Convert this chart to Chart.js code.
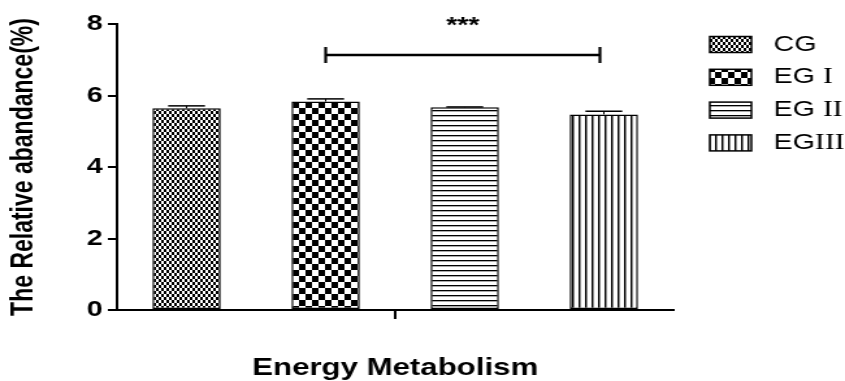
<!DOCTYPE html>
<html><head><meta charset="utf-8">
<script src="https://cdn.jsdelivr.net/npm/chart.js@4.4.1/dist/chart.umd.min.js"></script>
<style>
html,body{margin:0;padding:0;background:#fff;overflow:hidden}
#c{display:block;width:845px!important;height:381px!important}
</style></head><body>
<canvas id="c" width="650" height="381"></canvas>
<script>
const categories = ['Energy Metabolism'];
const seriesNames = ['CG', 'EG I', 'EG II', 'EGIII'];
const seriesValues = [5.64, 5.83, 5.67, 5.47];
const seriesErrors = [0.07, 0.075, 0.01, 0.09];
const yTicks = [0, 2, 4, 6, 8];
const sigFrom = 1, sigTo = 3, sigLevel = 7.13, sigLabel = '***';
const yTitle = 'The Relative abandance(%)';

const SANS = "'Liberation Sans', Arial, Helvetica, sans-serif";

function makePattern(kind) {
  const c = document.createElement('canvas');
  const g = c.getContext('2d');
  let w, h;
  if (kind === 'fine') { w = 4; h = 6; }
  else if (kind === 'big') { w = 10; h = 12; }
  else if (kind === 'h') { w = 4; h = 5; }
  else { w = 5; h = 4; }
  c.width = w; c.height = h;
  g.fillStyle = '#fff'; g.fillRect(0, 0, w, h);
  g.fillStyle = '#000';
  if (kind === 'fine') { g.fillRect(0, 0, 2, 3); g.fillRect(2, 3, 2, 3); }
  else if (kind === 'big') { g.fillRect(0, 0, 5, 6); g.fillRect(5, 6, 5, 6); }
  else if (kind === 'h') { g.fillRect(0, 0, w, 1); g.fillStyle = '#aaa'; g.fillRect(0, 1, w, 1); }
  else { g.fillRect(0, 0, 1, h); g.fillStyle = '#888'; g.fillRect(1, 0, 1, h); }
  return g.createPattern(c, 'repeat');
}
const patterns = [makePattern('fine'), makePattern('big'), makePattern('h'), makePattern('v')];

const overlay = {
  id: 'overlay',
  afterDatasetsDraw(chart) {
    const ctx = chart.ctx, y = chart.scales.y;
    ctx.save();
    ctx.strokeStyle = '#000';
    seriesValues.forEach((v, i) => {
      const bar = chart.getDatasetMeta(i).data[0];
      const half = bar.width * 0.27;
      const top = y.getPixelForValue(v + seriesErrors[i]);
      const base = y.getPixelForValue(v);
      ctx.lineWidth = 1;
      ctx.beginPath(); ctx.moveTo(bar.x, base); ctx.lineTo(bar.x, top); ctx.stroke();
      ctx.lineWidth = 1.5;
      ctx.beginPath(); ctx.moveTo(bar.x - half, top); ctx.lineTo(bar.x + half, top); ctx.stroke();
    });
    const x1 = chart.getDatasetMeta(sigFrom).data[0].x;
    const x2 = chart.getDatasetMeta(sigTo).data[0].x - 3;
    const yl = y.getPixelForValue(sigLevel);
    ctx.lineWidth = 2.5;
    ctx.beginPath(); ctx.moveTo(x1, yl); ctx.lineTo(x2, yl); ctx.stroke();
    ctx.lineWidth = 2.2;
    ctx.beginPath();
    ctx.moveTo(x1, yl - 8); ctx.lineTo(x1, yl + 8);
    ctx.moveTo(x2, yl - 8); ctx.lineTo(x2, yl + 8);
    ctx.stroke();
    ctx.fillStyle = '#000';
    ctx.font = 'bold 22px ' + SANS;
    ctx.textAlign = 'center';
    ctx.textBaseline = 'alphabetic';
    ctx.fillText(sigLabel, (x1 + x2) / 2, yl - 23);
    ctx.restore();
  },
  afterDraw(chart) {
    const ctx = chart.ctx;
    ctx.save();
    const bx = 546, bw = 32, bh = 16, tx = 595;
    seriesNames.forEach((name, i) => {
      const cy = 44.5 + i * 32.8;
      ctx.fillStyle = patterns[i];
      ctx.fillRect(bx, cy - bh / 2, bw, bh);
      ctx.strokeStyle = '#000';
      ctx.lineWidth = 1.5;
      ctx.strokeRect(bx, cy - bh / 2, bw, bh);
      ctx.fillStyle = '#000';
      ctx.textAlign = 'left';
      ctx.textBaseline = 'middle';
      const m = name.match(/^(.*?)(\s?)(I+)$/);
      ctx.font = '22px Arimo, "Liberation Sans", "DejaVu Sans", sans-serif';
      if (m) {
        ctx.fillText(m[1], tx, cy);
        const x = tx + ctx.measureText(m[1] + m[2]).width;
        ctx.font = '23px "Liberation Serif", "DejaVu Serif", serif';
        ctx.fillText(m[3], x, cy);
      } else {
        ctx.fillText(name, tx, cy);
      }
    });
    ctx.restore();
  }
};

new Chart(document.getElementById('c'), {
  type: 'bar',
  data: {
    labels: categories,
    datasets: seriesNames.map((n, i) => ({
      label: n,
      data: [seriesValues[i]],
      backgroundColor: patterns[i],
      borderColor: '#000',
      borderWidth: 1.5,
      borderSkipped: false,
      categoryPercentage: 1.0,
      barPercentage: 0.491
    }))
  },
  options: {
    responsive: false,
    animation: false,
    devicePixelRatio: 1,
    layout: { padding: { left: 0, right: 132, top: 24, bottom: 0 } },
    plugins: { legend: { display: false }, tooltip: { enabled: false } },
    scales: {
      x: {
        grid: { display: true, drawOnChartArea: false, drawTicks: true, tickLength: 9, color: '#000', lineWidth: 2, offset: false },
        border: { display: true, color: '#000', width: 2 },
        ticks: { color: '#000', font: { family: SANS, size: 24, weight: 'bold' }, padding: 35, maxRotation: 0, autoSkip: false },
        afterFit(s) { s.height = 71; }
      },
      y: {
        min: 0, max: 8,
        afterBuildTicks(s) { s.ticks = yTicks.map(v => ({ value: v })); },
        grid: { display: true, drawOnChartArea: false, drawTicks: true, tickLength: 7, color: '#000', lineWidth: 2 },
        border: { display: true, color: '#000', width: 2 },
        ticks: { color: '#000', font: { family: SANS, size: 22, weight: 'bold' }, padding: 4 },
        title: { display: true, text: yTitle, color: '#000', font: { family: SANS, size: 23, weight: 'bold' }, padding: { top: 5, bottom: 0 } },
        afterFit(s) { s.width = 90; }
      }
    }
  },
  plugins: [overlay]
});
</script>
</body></html>
